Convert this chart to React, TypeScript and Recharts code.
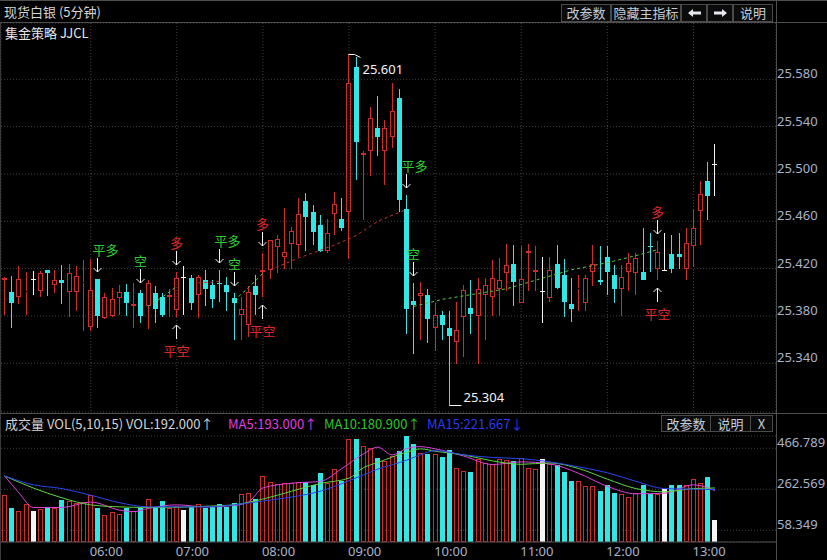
import React from 'react'
import { ComposedChart, Bar, Line, XAxis, YAxis, CartesianGrid } from 'recharts'

// 5-minute silver candles, 05:00 .. 13:15
const opens = [
  25.410, 25.400, 25.396, 25.400, 25.411, 25.401, 25.419, 25.406, 25.410, 25.400,
  25.400, 25.408, 25.371, 25.411, 25.378, 25.380, 25.395, 25.400, 25.388, 25.399,
  25.388, 25.399, 25.396, 25.396, 25.385, 25.413, 25.412, 25.398, 25.410, 25.406,
  25.408, 25.406, 25.395, 25.381, 25.372, 25.405, 25.417, 25.419, 25.438, 25.430,
  25.441, 25.440, 25.477, 25.468, 25.457, 25.435, 25.466, 25.462, 25.468, 25.590,
  25.516, 25.519, 25.539, 25.519, 25.531, 25.564, 25.470, 25.393, 25.397, 25.398,
  25.370, 25.381, 25.370, 25.358, 25.379, 25.387, 25.380, 25.398, 25.396, 25.403,
  25.416, 25.424, 25.391, 25.433, 25.417, 25.401, 25.395, 25.424, 25.415, 25.390,
  25.403, 25.391, 25.417, 25.410, 25.430, 25.415, 25.403, 25.417, 25.416, 25.417,
  25.439, 25.420, 25.419, 25.432, 25.432, 25.420, 25.439, 25.469, 25.494, 25.508,
]
const highs = [
  25.413, 25.414, 25.422, 25.417, 25.418, 25.418, 25.419, 25.419, 25.423, 25.424,
  25.422, 25.427, 25.428, 25.411, 25.399, 25.404, 25.406, 25.407, 25.408, 25.402,
  25.410, 25.405, 25.399, 25.403, 25.417, 25.422, 25.415, 25.415, 25.419, 25.410,
  25.419, 25.413, 25.399, 25.396, 25.405, 25.415, 25.433, 25.444, 25.448, 25.471,
  25.455, 25.480, 25.484, 25.474, 25.465, 25.462, 25.485, 25.480, 25.601, 25.599,
  25.519, 25.557, 25.566, 25.546, 25.577, 25.572, 25.482, 25.408, 25.409, 25.403,
  25.391, 25.384, 25.384, 25.392, 25.406, 25.410, 25.412, 25.412, 25.427, 25.429,
  25.441, 25.440, 25.439, 25.441, 25.439, 25.430, 25.430, 25.440, 25.428, 25.412,
  25.415, 25.415, 25.440, 25.439, 25.439, 25.423, 25.423, 25.433, 25.433, 25.454,
  25.450, 25.443, 25.450, 25.448, 25.450, 25.454, 25.470, 25.494, 25.510, 25.525,
]
const lows = [
  25.381, 25.370, 25.390, 25.381, 25.398, 25.396, 25.397, 25.399, 25.390, 25.379,
  25.384, 25.367, 25.367, 25.370, 25.377, 25.379, 25.381, 25.380, 25.370, 25.374,
  25.369, 25.374, 25.379, 25.379, 25.379, 25.381, 25.385, 25.378, 25.388, 25.387,
  25.392, 25.384, 25.360, 25.360, 25.362, 25.381, 25.396, 25.411, 25.416, 25.420,
  25.420, 25.430, 25.435, 25.440, 25.434, 25.433, 25.448, 25.452, 25.428, 25.495,
  25.461, 25.498, 25.515, 25.491, 25.522, 25.468, 25.365, 25.348, 25.360, 25.357,
  25.350, 25.360, 25.304, 25.339, 25.345, 25.365, 25.339, 25.360, 25.380, 25.380,
  25.401, 25.388, 25.391, 25.401, 25.401, 25.374, 25.392, 25.403, 25.379, 25.375,
  25.384, 25.384, 25.405, 25.406, 25.398, 25.391, 25.380, 25.401, 25.398, 25.410,
  25.417, 25.410, 25.418, 25.416, 25.420, 25.410, 25.421, 25.440, 25.461, 25.481,
]
const closes = [
  25.412, 25.391, 25.411, 25.401, 25.411, 25.416, 25.416, 25.410, 25.408, 25.416,
  25.414, 25.409, 25.402, 25.380, 25.396, 25.394, 25.400, 25.391, 25.390, 25.380,
  25.408, 25.386, 25.381, 25.398, 25.412, 25.413, 25.391, 25.413, 25.403, 25.394,
  25.407, 25.400, 25.391, 25.386, 25.400, 25.398, 25.419, 25.444, 25.445, 25.434,
  25.452, 25.466, 25.464, 25.451, 25.435, 25.450, 25.475, 25.454, 25.577, 25.527,
  25.518, 25.547, 25.531, 25.539, 25.553, 25.478, 25.386, 25.389, 25.399, 25.377,
  25.381, 25.372, 25.363, 25.368, 25.402, 25.382, 25.403, 25.406, 25.412, 25.410,
  25.423, 25.409, 25.411, 25.435, 25.419, 25.401, 25.419, 25.404, 25.392, 25.386,
  25.404, 25.412, 25.424, 25.409, 25.417, 25.403, 25.413, 25.425, 25.429, 25.410,
  25.438, 25.434, 25.419, 25.420, 25.430, 25.442, 25.454, 25.483, 25.481, 25.508,
]
const volumes = [
  233, 169, 156, 191, 156, 164, 175, 169, 207, 204,
  193, 201, 233, 169, 136, 151, 139, 169, 152, 169,
  212, 172, 204, 169, 180, 160, 172, 191, 169, 175,
  188, 175, 196, 240, 243, 212, 331, 298, 290, 293,
  293, 298, 298, 282, 342, 293, 363, 305, 515, 512,
  477, 467, 418, 402, 428, 455, 528, 488, 444, 439,
  439, 423, 460, 370, 353, 350, 415, 395, 391, 412,
  407, 402, 418, 370, 363, 415, 387, 383, 350, 306,
  306, 277, 277, 253, 285, 245, 240, 224, 245, 282,
  240, 240, 264, 285, 282, 282, 314, 293, 326, 112,
]

// volume moving averages at [bar, value]
const ma5Pts = [
  [0, 329], [2, 245], [4, 172], [8, 172], [12, 199], [16, 159], [18, 151], [20, 167],
  [24, 185], [28, 175], [32, 182], [34, 200], [36, 269], [40, 293], [44, 302], [47, 366],
  [50, 439], [52, 472], [54, 434], [56, 465], [58, 475], [60, 464], [64, 428], [68, 386],
  [72, 399], [76, 389], [80, 342], [84, 277], [88, 240], [92, 243], [96, 285], [99, 256],
]
const ma10Pts = [
  [0, 329], [4, 269], [8, 220], [12, 185], [16, 175], [20, 172], [24, 173], [28, 178],
  [32, 185], [36, 214], [40, 253], [44, 292], [48, 318], [50, 370], [52, 396], [56, 447],
  [58, 464], [60, 452], [64, 434], [68, 404], [72, 387], [76, 394], [80, 366], [84, 313],
  [88, 266], [92, 250], [96, 266], [99, 269],
]
const ma15Pts = [
  [0, 329], [4, 285], [8, 266], [12, 233], [16, 196], [20, 175], [24, 175], [28, 175],
  [32, 185], [36, 204], [40, 224], [44, 253], [48, 305], [52, 363], [56, 407], [58, 435],
  [60, 455], [64, 434], [68, 421], [72, 415], [76, 399], [80, 374], [84, 345], [88, 302],
  [92, 266], [96, 263], [99, 261],
]

// trailing stop lines (dashed)
const longStopA = [[27, 25.408], [30, 25.409]]
const longStopB = [[37, 25.419], [41, 25.429], [46, 25.440], [49, 25.448], [52, 25.460], [56, 25.470]]
const shortStopA = [[20, 25.388], [22, 25.396], [24, 25.405]]
const shortStopB = [[32, 25.393], [34, 25.404], [36, 25.416]]
const shortStopC = [
  [57, 25.388], [61, 25.394], [65, 25.398], [70, 25.403], [75, 25.412],
  [79, 25.419], [84, 25.425], [88, 25.431], [91, 25.436],
]

const signals = [
  { i: 13, text: '平多', pos: 'top' },
  { i: 19, text: '空', pos: 'top' },
  { i: 24, text: '多', pos: 'top' },
  { i: 24, text: '平空', pos: 'bottom' },
  { i: 30, text: '平多', pos: 'top' },
  { i: 32, text: '空', pos: 'top' },
  { i: 36, text: '多', pos: 'top' },
  { i: 36, text: '平空', pos: 'bottom' },
  { i: 56, text: '平多', pos: 'top' },
  { i: 57, text: '空', pos: 'top' },
  { i: 91, text: '多', pos: 'top' },
  { i: 91, text: '平空', pos: 'bottom' },
]

const timeTicks = [12, 24, 36, 48, 60, 72, 84, 96]
const timeLabels = ['06:00', '07:00', '08:00', '09:00', '10:00', '11:00', '12:00', '13:00']
const priceTicks = [25.34, 25.38, 25.42, 25.46, 25.5, 25.54, 25.58]
const volTicks = [58.349, 262.569, 466.789]

const SLOTS = 108
const RED = '#d42a2a'
const CYAN = '#33e6e6'
const WHITE = '#f4f4f4'
const SIG_GREEN = '#2fcf2f'
const SIG_RED = '#e02828'
const GRID = '#404040'
const AXIS_TXT = '#a9b4c8'
const EDGE = '#4e4e4e'
const CJK = '"Noto Sans CJK SC", "Noto Sans", sans-serif'
const LAT = '"Noto Sans", "DejaVu Sans", sans-serif'

const stopSegs = [
  { key: 'lA', color: '#c83030', pts: longStopA },
  { key: 'lB', color: '#c83030', pts: longStopB },
  { key: 'sA', color: '#5ccc36', pts: shortStopA },
  { key: 'sB', color: '#5ccc36', pts: shortStopB },
  { key: 'sC', color: '#5ccc36', pts: shortStopC },
]

const rows: any[] = Array.from({ length: SLOTS }, (_, i) => {
  const has = i < opens.length
  return {
    i,
    o: has ? opens[i] : null,
    h: has ? highs[i] : null,
    l: has ? lows[i] : null,
    c: has ? closes[i] : null,
    range: has ? [lows[i], highs[i]] : null,
    vol: has ? volumes[i] : null,
  }
})
ma5Pts.forEach(([i, v]) => (rows[i].ma5 = v))
ma10Pts.forEach(([i, v]) => (rows[i].ma10 = v))
ma15Pts.forEach(([i, v]) => (rows[i].ma15 = v))
stopSegs.forEach((s) => s.pts.forEach(([i, v]) => (rows[i][s.key] = v)))

const maxIdx = highs.indexOf(Math.max(...highs))
const minIdx = lows.indexOf(Math.min(...lows))

const dirColor = (o: number, c: number) => (c > o ? RED : c < o ? CYAN : WHITE)

const Candle = (props: any) => {
  const { x, y, width, height, payload } = props
  if (!payload || payload.o == null) return <g />
  const { o, h, l, c, i } = payload
  const k = h > l ? height / (h - l) : 0
  const py = (v: number) => y + (h - v) * k
  const cx = Math.floor(x + width / 2) + 0.5
  const col = dirColor(o, c)
  const yH = Math.round(y)
  const yL = Math.round(y + height)
  const yTop = Math.round(py(Math.max(o, c)))
  const yBot = Math.round(py(Math.min(o, c)))

  const parts: any[] = []
  if (c > o) {
    parts.push(<line key="w1" x1={cx} x2={cx} y1={yH} y2={yTop} stroke={col} />)
    parts.push(<line key="w2" x1={cx} x2={cx} y1={yBot} y2={yL} stroke={col} />)
    parts.push(
      <rect key="b" x={cx - 2} y={yTop + 0.5} width={4} height={Math.max(yBot - yTop - 1, 0)} fill="none" stroke={col} />
    )
  } else {
    parts.push(<line key="w" x1={cx} x2={cx} y1={yH} y2={yL} stroke={col} />)
    parts.push(<rect key="b" x={cx - 2.5} y={yTop} width={5} height={Math.max(yBot - yTop, 1)} fill={col} />)
  }

  signals
    .filter((s) => s.i === i)
    .forEach((s, n) => {
      const tcol = s.text === '平多' || s.text === '空' ? SIG_GREEN : SIG_RED
      const anchor = s.text === '平多' ? 'start' : 'middle'
      const tx = s.text === '平多' ? cx - 5 : cx
      if (s.pos === 'top') {
        const tip = yH - 7
        parts.push(
          <g key={'s' + n} stroke={WHITE} fill="none">
            <line x1={cx} x2={cx} y1={yH - 21} y2={tip} />
            <polyline points={`${cx - 4},${tip - 4} ${cx},${tip} ${cx + 4},${tip - 4}`} />
          </g>
        )
        parts.push(
          <text key={'t' + n} x={tx} y={yH - 30} fill={tcol} fontSize={13} fontFamily={CJK} textAnchor={anchor} dominantBaseline="central">
            {s.text}
          </text>
        )
      } else {
        const tip = yL + 8
        parts.push(
          <g key={'s' + n} stroke={WHITE} fill="none">
            <line x1={cx} x2={cx} y1={yL + 22} y2={tip} />
            <polyline points={`${cx - 4},${tip + 4} ${cx},${tip} ${cx + 4},${tip + 4}`} />
          </g>
        )
        parts.push(
          <text key={'t' + n} x={tx} y={yL + 33} fill={tcol} fontSize={13} fontFamily={CJK} textAnchor={anchor} dominantBaseline="central">
            {s.text}
          </text>
        )
      }
    })

  if (i === maxIdx) {
    parts.push(
      <polyline key="mx" points={`${cx},${yH + 0.5} ${cx + 6},${yH + 0.5} ${cx + 12},${yH + 3.5}`} stroke={WHITE} fill="none" />
    )
    parts.push(
      <text key="mxt" x={cx + 14} y={yH + 15} fill={WHITE} fontSize={13} fontFamily={LAT} dominantBaseline="central">
        {h.toFixed(3)}
      </text>
    )
  }
  if (i === minIdx) {
    parts.push(<line key="mn" x1={cx} x2={cx + 12} y1={yL - 0.5} y2={yL - 0.5} stroke={WHITE} />)
    parts.push(
      <text key="mnt" x={cx + 14} y={yL - 9} fill={WHITE} fontSize={13} fontFamily={LAT} dominantBaseline="central">
        {l.toFixed(3)}
      </text>
    )
  }
  return <g>{parts}</g>
}

const VolBar = (props: any) => {
  const { x, y, width, height, payload } = props
  if (!payload || payload.vol == null) return <g />
  const col = dirColor(payload.o, payload.c)
  const cx = Math.floor(x + width / 2) + 0.5
  const top = Math.round(y)
  const bot = Math.round(y + height)
  if (col === RED) {
    return <rect x={cx - 2} y={top + 0.5} width={4} height={Math.max(bot - top - 1, 0)} fill="none" stroke={col} />
  }
  return <rect x={cx - 2.5} y={top} width={5} height={bot - top} fill={col} />
}

const AxisTick = (props: any) => {
  const { x, y, payload, digits } = props
  return (
    <text x={x + 1} y={y - 6} fill={AXIS_TXT} fontSize={13} fontFamily={LAT} dominantBaseline="central">
      {Number(payload.value).toFixed(digits)}
    </text>
  )
}

const TimeTick = (props: any) => {
  const { x, y, payload } = props
  const k = timeTicks.indexOf(payload.value)
  return (
    <text x={x - 1} y={y + 9} fill={AXIS_TXT} fontSize={13} fontFamily={LAT} dominantBaseline="central">
      {timeLabels[k]}
    </text>
  )
}

const Btn = ({ left, top, width, height, children }: any) => (
  <div
    style={{
      position: 'absolute',
      left,
      top,
      width,
      height,
      boxSizing: 'border-box',
      border: '1px solid #4a4a4a',
      background: '#0b0b0b',
      color: '#c4cbd8',
      fontSize: 13,
      lineHeight: `${height - 2}px`,
      textAlign: 'center',
      fontFamily: CJK,
    }}
  >
    {children}
  </div>
)

const ArrowIcon = ({ dir }: { dir: 'l' | 'r' }) => (
  <svg width={13} height={8} style={{ verticalAlign: 'middle', marginTop: -2 }}>
    <polygon
      points={dir === 'l' ? '0,4 5,0 5,2.5 13,2.5 13,5.5 5,5.5 5,8' : '13,4 8,0 8,2.5 0,2.5 0,5.5 8,5.5 8,8'}
      fill="#e6e8f0"
    />
  </svg>
)

const hLine = (top: number, left: number, width: number, color = EDGE) => (
  <div style={{ position: 'absolute', top, left, width, height: 1, background: color }} />
)

const HeadText = ({ left, color, children }: any) => (
  <div style={{ position: 'absolute', left, top: 415, fontSize: 13, lineHeight: '18px', whiteSpace: 'nowrap', color }}>
    {children}
  </div>
)

export default function App() {
  return (
    <div
      style={{
        position: 'fixed',
        left: 0,
        top: 0,
        width: 827,
        height: 560,
        background: '#000',
        overflow: 'hidden',
        fontFamily: CJK,
      }}
    >
      {/* price panel */}
      <div style={{ position: 'absolute', left: 0, top: 0 }}>
        <ComposedChart width={827} height={413} data={rows} margin={{ top: 23, right: 0, bottom: 1, left: 1 }}>
          <CartesianGrid stroke={GRID} strokeDasharray="1 2" />
          <XAxis dataKey="i" type="category" hide ticks={timeTicks} interval={0} />
          <YAxis
            orientation="right"
            width={51}
            type="number"
            domain={[25.2988, 25.6276]}
            ticks={priceTicks}
            axisLine={false}
            tickLine={false}
            tickSize={0}
            tickMargin={0}
            interval={0}
            tick={<AxisTick digits={3} />}
          />
          <Bar dataKey="range" barSize={5} shape={Candle} isAnimationActive={false} />
          {stopSegs.map((s) => (
            <Line
              key={s.key}
              dataKey={s.key}
              stroke={s.color}
              strokeWidth={1}
              strokeDasharray="3 3"
              dot={false}
              activeDot={false}
              connectNulls
              isAnimationActive={false}
            />
          ))}
        </ComposedChart>
      </div>

      {/* volume panel */}
      <div style={{ position: 'absolute', left: 0, top: 413 }}>
        <ComposedChart width={827} height={147} data={rows} margin={{ top: 23, right: 0, bottom: 0, left: 1 }}>
          <CartesianGrid stroke={GRID} strokeDasharray="1 2" vertical={false} />
          <XAxis
            dataKey="i"
            type="category"
            ticks={timeTicks}
            interval={0}
            height={18}
            tickLine={false}
            tickSize={0}
            tickMargin={0}
            axisLine={{ stroke: EDGE }}
            tick={<TimeTick />}
          />
          <YAxis
            orientation="right"
            width={51}
            type="number"
            domain={[0, 515.4]}
            ticks={volTicks}
            axisLine={false}
            tickLine={false}
            tickSize={0}
            tickMargin={0}
            interval={0}
            tick={<AxisTick digits={3} />}
          />
          <Bar dataKey="vol" barSize={5} shape={VolBar} isAnimationActive={false} />
          <Line dataKey="ma5" type="monotone" stroke="#e040e0" strokeWidth={1} dot={false} activeDot={false} connectNulls isAnimationActive={false} />
          <Line dataKey="ma10" type="monotone" stroke="#5cd83c" strokeWidth={1} dot={false} activeDot={false} connectNulls isAnimationActive={false} />
          <Line dataKey="ma15" type="monotone" stroke="#2a46f0" strokeWidth={1} dot={false} activeDot={false} connectNulls isAnimationActive={false} />
        </ComposedChart>
      </div>

      {/* frame lines */}
      {hLine(0, 0, 827)}
      {hLine(22, 0, 827)}
      {hLine(413, 0, 827)}
      <div style={{ position: 'absolute', left: 776, top: 0, width: 1, height: 560, background: EDGE }} />
      <div style={{ position: 'absolute', left: 0, top: 22, width: 1, height: 538, background: '#3a3a3a' }} />

      {/* headers */}
      <div style={{ position: 'absolute', left: 4, top: 3, fontSize: 13, lineHeight: '18px', color: '#d6d6d6', whiteSpace: 'nowrap' }}>
        现货白银 (5分钟)
      </div>
      <div style={{ position: 'absolute', left: 5, top: 24, fontSize: 13, lineHeight: '18px', color: '#e6e6e6', whiteSpace: 'nowrap' }}>
        集金策略 JJCL
      </div>
      <Btn left={561} top={4} width={50} height={18}>改参数</Btn>
      <Btn left={611} top={4} width={70} height={18}>隐藏主指标</Btn>
      <Btn left={681} top={4} width={26} height={18}><ArrowIcon dir="l" /></Btn>
      <Btn left={707} top={4} width={26} height={18}><ArrowIcon dir="r" /></Btn>
      <Btn left={733} top={4} width={40} height={18}>说明</Btn>

      <HeadText left={5} color="#d4d4d4">成交量 VOL(5,10,15) VOL:192.000↑</HeadText>
      <HeadText left={228} color="#e03ce0">MA5:193.000↑</HeadText>
      <HeadText left={324} color="#28c828">MA10:180.900↑</HeadText>
      <HeadText left={427} color="#2a3cf0">MA15:221.667↓</HeadText>
      <Btn left={661} top={415} width={50} height={17}>改参数</Btn>
      <Btn left={710} top={415} width={41} height={17}>说明</Btn>
      <Btn left={750} top={415} width={23} height={17}>X</Btn>
    </div>
  )
}
